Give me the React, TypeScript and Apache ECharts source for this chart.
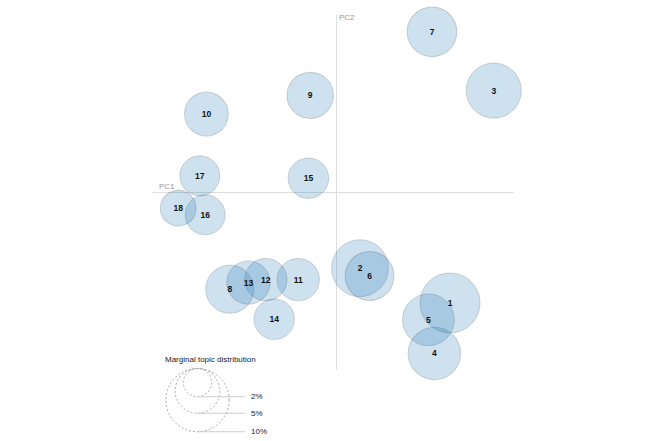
import React, { useEffect, useRef } from "react";
import * as echarts from "echarts";

const topics = ["1","2","3","4","5","6","7","8","9","10","11","12","13","14","15","16","17","18"];
const pc1 = [0.190, 0.040, 0.263, 0.164, 0.154, 0.056, 0.160, -0.177, -0.043, -0.216, -0.063, -0.117, -0.146, -0.103, -0.046, -0.218, -0.227, -0.263];
const pc2 = [-0.185, -0.127, 0.169, -0.269, -0.213, -0.140, 0.267, -0.162, 0.161, 0.130, -0.146, -0.146, -0.151, -0.212, 0.023, -0.038, 0.027, -0.027];
const share = [9.0, 8.1, 7.6, 6.9, 6.7, 6.0, 6.2, 5.8, 5.4, 4.8, 4.5, 4.5, 4.7, 4.1, 4.1, 4.0, 4.0, 3.2];
const legendPct = [2, 5, 10];
const legendLabels = ["2%", "5%", "10%"];

const radiusOf = (p: number) => 10 * Math.sqrt(p);

export default function App() {
  const ref = useRef<HTMLDivElement>(null);
  useEffect(() => {
    document.body.style.margin = "0";
    if (!ref.current) return;
    const chart = echarts.init(ref.current, null, { renderer: "svg" });
    const data = topics.map((t, i) => [pc1[i], pc2[i], share[i], t]);
    const cx = 197.5;
    const topY = 368.5;
    const legendEls: any[] = [];
    legendPct.forEach((p, i) => {
      const r = radiusOf(p);
      const cy = topY + r;
      legendEls.push({
        type: "circle",
        shape: { cx, cy, r },
        style: { fill: "none", stroke: "#aaa", lineWidth: 1, lineDash: [2, 2] },
      });
      legendEls.push({
        type: "line",
        shape: { x1: cx, y1: cy + r, x2: 245, y2: cy + r },
        style: { stroke: "#ccc", lineWidth: 1 },
      });
      legendEls.push({
        type: "text",
        x: 251,
        y: cy + r,
        style: {
          text: legendLabels[i],
          fill: "#222",
          font: "8px 'Liberation Sans', Arial, sans-serif",
          verticalAlign: "middle",
          align: "left",
        },
      });
    });
    chart.setOption({
      animation: false,
      grid: { left: 153, top: 15, width: 360, height: 354 },
      xAxis: {
        type: "value",
        min: -0.305,
        max: 0.295,
        axisLine: { show: true, onZero: true, lineStyle: { color: "#ddd", width: 1 } },
        axisTick: { show: false },
        axisLabel: { show: false },
        splitLine: { show: false },
      },
      yAxis: {
        type: "value",
        min: -0.295,
        max: 0.295,
        axisLine: { show: true, onZero: true, lineStyle: { color: "#ddd", width: 1 } },
        axisTick: { show: false },
        axisLabel: { show: false },
        splitLine: { show: false },
      },
      series: [
        {
          type: "scatter",
          data,
          symbol: "circle",
          symbolSize: (v: any) => 2 * radiusOf(v[2]),
          itemStyle: {
            color: "rgba(31,119,180,0.22)",
            borderColor: "rgba(0,0,0,0.15)",
            borderWidth: 1,
            opacity: 1,
          },
          label: {
            show: true,
            position: "inside",
            formatter: (p: any) => p.value[3],
            color: "#111",
            fontWeight: "bold",
            fontSize: 8.5,
            fontFamily: "'Liberation Sans', Arial, sans-serif",
          },
          emphasis: { disabled: true },
        },
      ],
      graphic: [
        {
          type: "text",
          x: 159,
          y: 186,
          style: { text: "PC1", fill: "#999", font: "8px 'Liberation Sans', Arial, sans-serif", verticalAlign: "middle" },
        },
        {
          type: "text",
          x: 339,
          y: 17,
          style: { text: "PC2", fill: "#999", font: "8px 'Liberation Sans', Arial, sans-serif", verticalAlign: "middle" },
        },
        {
          type: "text",
          x: 165,
          y: 359,
          style: {
            text: "Marginal topic distribution",
            fill: "#222",
            font: "8px 'Liberation Sans', Arial, sans-serif",
            verticalAlign: "middle",
          },
        },
        ...legendEls,
      ],
    });
    return () => chart.dispose();
  }, []);
  return <div ref={ref} style={{ width: 666, height: 441 }} />;
}
